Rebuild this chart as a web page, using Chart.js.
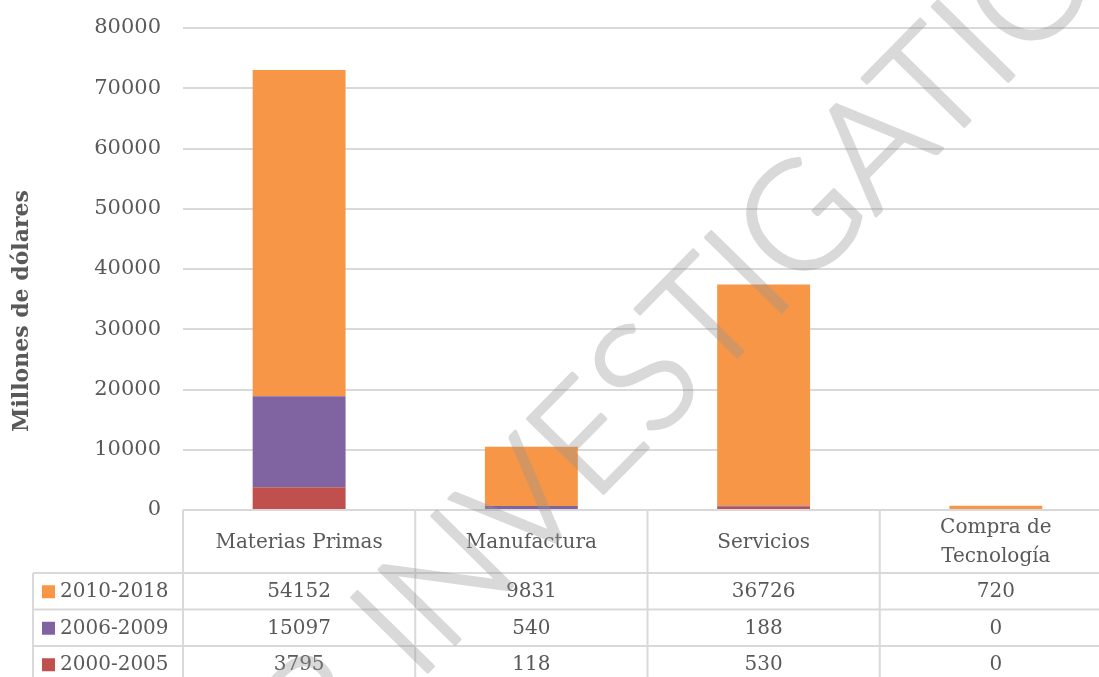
<!DOCTYPE html>
<html>
<head>
<meta charset="utf-8">
<script src="https://cdn.jsdelivr.net/npm/chart.js@4.4.1/dist/chart.umd.min.js"></script>
<style>
  html, body { margin: 0; padding: 0; background: #fff; overflow: hidden; }
  #wrap { position: relative; width: 1112px; height: 677px; }
</style>
</head>
<body>
<div id="wrap"><canvas id="chart"></canvas></div>
<script>
// data
const categories = ['Materias Primas', 'Manufactura', 'Servicios', ['Compra de', 'Tecnología']];
const seriesLabels = ['2000-2005', '2006-2009', '2010-2018'];
const values2000 = [3795, 118, 530, 0];
const values2006 = [15097, 540, 188, 0];
const values2010 = [54152, 9831, 36726, 720];
const yMin = 0;
const yMax = 80000;
const yStep = 10000;
const yTitle = 'Millones de dólares';

const colors = ['#C0504D', '#8064A2', '#F79646'];
const textColor = '#595959';
const lineColor = '#d9d9d9';
const serif = '"DejaVu Serif", "Liberation Serif", serif';

// data table under the plot, Excel style, plus the axis title
const tablePlugin = {
  id: 'dataTable',
  afterDraw(chart) {
    const ctx = chart.ctx;
    const x = chart.scales.x;
    const area = chart.chartArea;
    const colW = (area.right - area.left) / categories.length;
    const top = area.bottom;
    const headH = 63;
    const rowH = 36.5;
    const legLeft = 33;
    const rows = [2, 1, 0]; // table lists the latest period first
    const series = [values2000, values2006, values2010];

    ctx.save();
    ctx.strokeStyle = lineColor;
    ctx.lineWidth = 2;
    ctx.beginPath();
    ctx.moveTo(area.left, top); ctx.lineTo(area.right, top);
    for (let r = 0; r <= rows.length; r++) {
      const y = top + headH + r * rowH;
      ctx.moveTo(legLeft, y); ctx.lineTo(area.right, y);
    }
    for (let c = 0; c <= categories.length; c++) {
      const cx = area.left + c * colW;
      ctx.moveTo(cx, top); ctx.lineTo(cx, top + headH + rows.length * rowH);
    }
    ctx.moveTo(legLeft, top + headH); ctx.lineTo(legLeft, top + headH + rows.length * rowH);
    ctx.stroke();

    ctx.fillStyle = textColor;
    ctx.font = '20px ' + serif;
    ctx.textAlign = 'center';
    ctx.textBaseline = 'middle';
    categories.forEach((cat, i) => {
      const cx = x.getPixelForValue(i);
      const lines = Array.isArray(cat) ? cat : [cat];
      const lh = 29;
      lines.forEach((t, k) => {
        ctx.fillText(t, cx, top + headH / 2 + 1 + (k - (lines.length - 1) / 2) * lh);
      });
    });

    rows.forEach((s, r) => {
      const cy = top + headH + r * rowH + rowH / 2 + 1;
      series[s].forEach((v, i) => {
        ctx.fillStyle = textColor;
        ctx.textAlign = 'center';
        ctx.fillText(String(v), x.getPixelForValue(i), cy);
      });
      ctx.fillStyle = colors[s];
      ctx.fillRect(42, cy - 7, 13, 13);
      ctx.fillStyle = textColor;
      ctx.textAlign = 'left';
      ctx.fillText(seriesLabels[s], 60, cy);
    });

    // y axis title, centred a bit lower than the plot like Excel does
    ctx.translate(22, 311);
    ctx.rotate(-Math.PI / 2);
    ctx.textAlign = 'center';
    ctx.font = 'bold 22px ' + serif;
    ctx.fillText(yTitle, 0, 0);
    ctx.restore();
  }
};

// light diagonal watermark over the whole picture
const watermarkPlugin = {
  id: 'watermark',
  afterDraw(chart) {
    const ctx = chart.ctx;
    const w = chart.width, h = chart.height;
    const off = document.createElement('canvas');
    off.width = w; off.height = h;
    const o = off.getContext('2d');
    const text = 'FOR INVESTIGATION';
    o.font = '300 150px Lato, "DejaVu Sans", sans-serif';
    o.fillStyle = 'rgb(150,150,150)';
    o.strokeStyle = 'rgb(150,150,150)';
    o.lineWidth = 3.5;
    o.lineJoin = 'round';
    o.textBaseline = 'middle';
    o.translate(802, 222);
    o.rotate(-45.5 * Math.PI / 180);
    const pre = o.measureText('FOR INVESTI').width + o.measureText('G').width / 2;
    o.fillText(text, -pre, 0);
    o.strokeText(text, -pre, 0);
    ctx.save();
    ctx.globalAlpha = 0.36;
    ctx.drawImage(off, 0, 0, w, h);
    ctx.restore();
  }
};

new Chart(document.getElementById('chart'), {
  type: 'bar',
  data: {
    labels: categories,
    datasets: seriesLabels.map((label, i) => ({
      label: label,
      data: [values2000, values2006, values2010][i],
      backgroundColor: colors[i],
      borderWidth: 0,
      categoryPercentage: 1,
      barPercentage: 0.4
    }))
  },
  options: {
    responsive: true,
    maintainAspectRatio: false,
    animation: false,
    layout: { padding: { top: 28, bottom: 167, left: 0, right: 0 } },
    plugins: {
      legend: { display: false },
      tooltip: { enabled: false }
    },
    scales: {
      x: {
        stacked: true,
        display: false
      },
      y: {
        stacked: true,
        min: yMin,
        max: yMax,
        ticks: {
          stepSize: yStep,
          padding: 22,
          color: textColor,
          font: { family: serif, size: 21 },
          callback: (v) => String(v)
        },
        grid: { color: lineColor, lineWidth: 2, drawTicks: false },
        border: { display: false },
        afterFit(scale) {
          scale.width = 183;
          scale.paddingTop = 0;
          scale.paddingBottom = 0;
        }
      }
    }
  },
  plugins: [tablePlugin, watermarkPlugin]
});
</script>
</body>
</html>
